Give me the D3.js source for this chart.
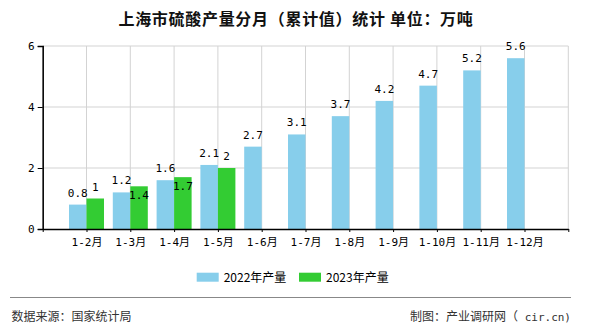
<!DOCTYPE html>
<html><head><meta charset="utf-8">
<script src="https://cdn.jsdelivr.net/npm/d3@7"></script>
<style>body{margin:0;background:#fff}svg{display:block}</style>
</head><body>
<svg id="c" width="590" height="330"></svg>
<script>
const categories = ["1-2月","1-3月","1-4月","1-5月","1-6月","1-7月","1-8月","1-9月","1-10月","1-11月","1-12月"];
const values2022 = [0.8,1.2,1.6,2.1,2.7,3.1,3.7,4.2,4.7,5.2,5.6];
const values2023 = [1,1.4,1.7,2,null,null,null,null,null,null,null];
const seriesNames = ["2022年产量","2023年产量"];
const yTicks = [0,2,4,6];
const titleText = "上海市硫酸产量分月（累计值）统计 单位：万吨";
const sourceText = "数据来源：国家统计局";
const makerTextCjk = "制图：产业调研网（";
const makerTextLatin = " cir.cn)";

const colors = ["#87CEEB","#33CC33"];
const svg = d3.select("#c");
const L = 42.7, R = 568.3, T = 46, B = 229;
const cjk = "'Noto Sans CJK SC','Noto Sans',sans-serif";
const mono = "'DejaVu Sans Mono','Noto Sans CJK SC',monospace";

const x = d3.scalePoint().domain(["_s", ...categories, "_e"]).range([L, R]).padding(0);
const y = d3.scaleLinear().domain([0,6]).range([B, T]);
const bw = 17.5;

// grid
const g = svg.append("g");
g.selectAll("line.v").data(["_s", ...categories, "_e"]).join("line")
  .attr("x1", d => x(d)).attr("x2", d => x(d)).attr("y1", T).attr("y2", B)
  .attr("stroke", "#d3d3d3").attr("stroke-width", 1);
g.selectAll("line.h").data(yTicks.filter(v => v > 0)).join("line")
  .attr("x1", L).attr("x2", R).attr("y1", d => y(d)).attr("y2", d => y(d))
  .attr("stroke", "#d3d3d3").attr("stroke-width", 1);

// bars
const series = [values2022, values2023];
series.forEach((vals, si) => {
  svg.append("g").selectAll("rect").data(categories.map((c,i)=>({c, v: vals[i]})).filter(d => d.v != null))
    .join("rect")
    .attr("x", d => x(d.c) + (si === 0 ? -bw : 0))
    .attr("y", d => y(d.v)).attr("width", bw).attr("height", d => B - y(d.v))
    .attr("fill", colors[si]);
});

// axes
const yAxis = d3.axisLeft(y).tickValues(yTicks).tickSize(5).tickPadding(3).tickFormat(d3.format("d"));
const ya = svg.append("g").attr("transform", `translate(${L},0)`).call(yAxis);
ya.select(".domain").attr("stroke", "#000").attr("stroke-width", 1.5);
ya.selectAll("text").attr("font-family", mono).attr("font-size", 11).attr("fill", "#000");
const xAxis = d3.axisBottom(x).tickSizeInner(3).tickSizeOuter(0).tickPadding(4).tickFormat(d => d.startsWith("_") ? "" : d);
const xa = svg.append("g").attr("transform", `translate(0,${B})`).call(xAxis);
xa.select(".domain").attr("stroke", "#000").attr("stroke-width", 1.5);
xa.selectAll("text").attr("font-family", mono).attr("font-size", 11).attr("fill", "#000").attr("dy", "0.9em");

// labels
const lbl = svg.append("g").attr("font-family", mono).attr("font-size", 11).attr("fill", "#000").attr("text-anchor", "middle");
const boxes = [];
categories.forEach((c, i) => {
  const v = values2022[i];
  if (v == null) return;
  const cx = x(c) - bw/2, by = y(v) - 8;
  lbl.append("text").attr("x", cx).attr("y", by).text(v);
  const w = String(v).length * 6.6;
  boxes[i] = {x0: cx - w/2, x1: cx + w/2, y0: by - 9, y1: by};
});
categories.forEach((c, i) => {
  const v = values2023[i];
  if (v == null) return;
  const cx = x(c) + bw/2;
  const w = String(v).length * 6.6;
  let by = y(v) - 8;
  const b = boxes[i];
  if (b && cx - w/2 < b.x1 + 1 && cx + w/2 > b.x0 && by - 9 < b.y1 && by > b.y0) by = y(v) + 13;
  lbl.append("text").attr("x", cx).attr("y", by).text(v);
});

// title
svg.append("text").attr("x", 296).attr("y", 25).attr("text-anchor", "middle")
  .attr("font-family", cjk).attr("font-size", 16).attr("font-weight", "bold")
  .attr("letter-spacing", 0.7).attr("fill", "#111").text(titleText);

// legend
const lg = svg.append("g");
const lx = [196.7, 299];
seriesNames.forEach((n, i) => {
  lg.append("rect").attr("x", lx[i]).attr("y", 272.7).attr("width", 22).attr("height", 9).attr("fill", colors[i]);
  lg.append("text").attr("x", lx[i] + 27).attr("y", 281.5).attr("font-family", cjk).attr("font-size", 12)
    .attr("fill", "#000").text(n);
});

// footer
svg.append("line").attr("x1", 10).attr("x2", 571).attr("y1", 297.5).attr("y2", 297.5).attr("stroke", "#888").attr("stroke-width", 1);
svg.append("text").attr("x", 11.5).attr("y", 321).attr("font-family", cjk).attr("font-size", 12).attr("fill", "#333").text(sourceText);
const mk = svg.append("text").attr("x", 571).attr("y", 321).attr("text-anchor", "end").attr("font-family", cjk).attr("font-size", 12).attr("fill", "#333");
mk.append("tspan").text(makerTextCjk);
mk.append("tspan").attr("font-family", mono).attr("font-size", 11).attr("xml:space", "preserve").text(makerTextLatin);
</script>
</body></html>
